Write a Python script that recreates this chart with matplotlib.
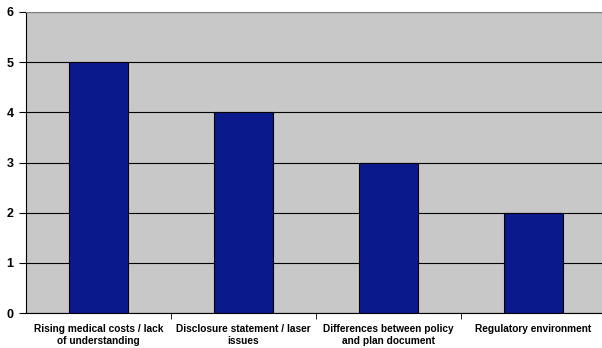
import matplotlib
matplotlib.use("Agg")
import matplotlib.pyplot as plt
import numpy as np

categories = ["Rising medical costs / lack\nof understanding",
              "Disclosure statement / laser\nissues",
              "Differences between policy\nand plan document",
              "Regulatory environment"]
values = [5, 4, 3, 2]

plt.rcParams['font.family'] = ['Liberation Sans', 'DejaVu Sans']

fig = plt.figure(figsize=(6.02, 3.48), dpi=100)
ax = fig.add_axes([26 / 602, 35 / 348, 580 / 602, 301 / 348])
ax.set_facecolor('#c8c8c8')

x = np.arange(len(categories))
ax.bar(x, values, width=0.41, color='#0a1a8c', edgecolor='black', linewidth=0.8, zorder=3)

ax.set_xlim(-0.5, len(categories) - 0.5)
ax.set_ylim(0, 6)
ax.set_yticks(range(0, 7))
ax.yaxis.grid(True, color='black', linewidth=0.8, zorder=1)
ax.set_axisbelow(True)

ax.set_xticks(x)
ax.set_xticklabels(categories, fontsize=7.3, fontweight='bold')
ax.tick_params(axis='x', length=0, pad=8)
ax.set_xticks(np.arange(0.5, len(categories) - 0.5), minor=True)
ax.tick_params(axis='x', which='minor', length=4, direction='out', color='black')
ax.tick_params(axis='y', length=5, direction='out', labelsize=9, pad=4)
for lbl in ax.get_yticklabels():
    lbl.set_fontweight('bold')

ax.spines['top'].set_color('#808080')
ax.spines['right'].set_visible(False)
ax.spines['left'].set_color('black')
ax.spines['bottom'].set_color('black')

fig.savefig("out.png", dpi=100)
